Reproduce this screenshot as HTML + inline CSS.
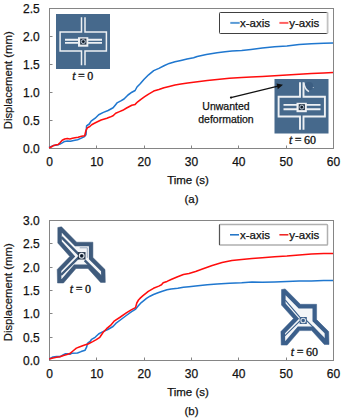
<!DOCTYPE html>
<html><head><meta charset="utf-8"><style>
html,body{margin:0;padding:0;background:#fff;}
svg{display:block;}
.tk{font-family:"Liberation Sans",sans-serif;font-size:12px;fill:#111;stroke:#111;stroke-width:0.25px;}
.ax{font-family:"Liberation Sans",sans-serif;font-size:11.3px;fill:#111;stroke:#111;stroke-width:0.2px;}
.lg{font-family:"Liberation Sans",sans-serif;font-size:11.5px;fill:#111;stroke:#111;stroke-width:0.25px;}
.an{font-family:"Liberation Sans",sans-serif;font-size:10.5px;fill:#111;stroke:#111;stroke-width:0.25px;}
.tt{font-family:"Liberation Serif",serif;font-size:12px;word-spacing:-0.5px;fill:#111;stroke:#111;stroke-width:0.3px;}
</style></head><body>
<svg width="342" height="418" viewBox="0 0 342 418">
<rect width="342" height="418" fill="#fff"/>
<rect x="49.5" y="8.5" width="284.0" height="140" fill="none" stroke="#858585" stroke-width="1"/>
<text x="39.8" y="152.9" text-anchor="end" class="tk">0.0</text>
<line x1="49.5" y1="120.5" x2="52.5" y2="120.5" stroke="#858585"/>
<text x="39.8" y="124.9" text-anchor="end" class="tk">0.5</text>
<line x1="49.5" y1="92.5" x2="52.5" y2="92.5" stroke="#858585"/>
<text x="39.8" y="96.9" text-anchor="end" class="tk">1.0</text>
<line x1="49.5" y1="64.5" x2="52.5" y2="64.5" stroke="#858585"/>
<text x="39.8" y="68.9" text-anchor="end" class="tk">1.5</text>
<line x1="49.5" y1="36.5" x2="52.5" y2="36.5" stroke="#858585"/>
<text x="39.8" y="40.9" text-anchor="end" class="tk">2.0</text>
<text x="39.8" y="12.9" text-anchor="end" class="tk">2.5</text>
<text x="49.5" y="165.5" text-anchor="middle" class="tk">0</text>
<line x1="96.5" y1="148.5" x2="96.5" y2="145.5" stroke="#858585"/>
<text x="96.83333333333334" y="165.5" text-anchor="middle" class="tk">10</text>
<line x1="144.5" y1="148.5" x2="144.5" y2="145.5" stroke="#858585"/>
<text x="144.16666666666669" y="165.5" text-anchor="middle" class="tk">20</text>
<line x1="191.5" y1="148.5" x2="191.5" y2="145.5" stroke="#858585"/>
<text x="191.5" y="165.5" text-anchor="middle" class="tk">30</text>
<line x1="238.5" y1="148.5" x2="238.5" y2="145.5" stroke="#858585"/>
<text x="238.83333333333334" y="165.5" text-anchor="middle" class="tk">40</text>
<line x1="286.5" y1="148.5" x2="286.5" y2="145.5" stroke="#858585"/>
<text x="286.16666666666663" y="165.5" text-anchor="middle" class="tk">50</text>
<text x="333.5" y="165.5" text-anchor="middle" class="tk">60</text>
<text x="188" y="183.5" text-anchor="middle" class="tk" style="font-size:11.5px">Time (s)</text>
<text x="191.5" y="202.5" text-anchor="middle" class="tk" style="font-size:11.5px">(a)</text>
<text transform="translate(12,80.3) rotate(-90)" text-anchor="middle" class="ax">Displacement (mm)</text>
<rect x="219.5" y="12.5" width="108" height="21" rx="0.8" fill="#fff" stroke="#404040"/>
<line x1="327.6" y1="12.5" x2="327.6" y2="33.2" stroke="#c2c2c2" stroke-width="1.8"/>
<line x1="230.3" y1="22.9" x2="239.7" y2="22.9" stroke="#5a9bd6" stroke-width="2"/>
<line x1="279.4" y1="22.9" x2="288.4" y2="22.9" stroke="#ff6060" stroke-width="2"/>
<text x="240" y="27" class="lg">x-axis</text>
<text x="289.2" y="27" class="lg">y-axis</text>
<polyline points="49.0,147.5 53.7,145.4 57.0,144.9 59.6,144.2 62.2,142.9 64.7,141.4 67.3,141.0 70.5,141.2 73.7,140.4 77.6,139.7 80.8,138.4 84.0,136.9 86.0,134.8 86.6,125.8 88.5,124.5 89.3,124.0 91.1,121.2 95.2,118.2 98.7,114.7 103.4,112.4 108.1,110.5 113.1,107.8 115.0,105.4 117.0,102.9 120.8,100.9 124.0,99.0 128.0,95.0 131.9,92.2 135.1,90.5 137.0,87.0 140.2,83.8 144.1,79.3 148.6,74.8 153.7,70.6 158.9,68.4 164.0,65.8 169.2,63.4 175.0,61.8 180.9,60.4 187.0,59.1 193.6,57.7 197.2,56.4 206.3,54.6 217.1,52.8 225.0,51.8 232.0,51.0 241.7,50.6 251.0,49.5 262.3,48.0 274.6,46.8 286.9,46.0 299.1,44.6 311.4,43.8 323.7,43.3 333.0,42.9" fill="none" stroke="#1f77cf" stroke-width="1.55" stroke-linejoin="round"/>
<polyline points="49.0,147.7 51.2,147.0 53.8,145.4 56.4,144.8 58.3,144.4 60.2,142.5 62.2,140.3 64.7,139.0 67.3,138.6 69.9,138.9 72.5,138.2 75.0,137.8 78.2,137.3 81.5,136.3 84.7,135.7 86.0,130.3 87.3,127.9 89.8,126.5 91.7,124.7 94.4,123.3 96.4,122.3 101.1,120.0 106.9,118.2 110.0,117.1 113.1,115.8 115.7,113.2 118.9,111.9 122.7,110.3 126.6,108.0 131.8,105.2 135.1,104.4 137.7,101.8 140.9,99.3 144.7,96.7 148.6,94.1 153.7,91.1 158.9,89.6 164.0,87.7 169.2,86.4 175.0,85.0 180.9,84.1 187.7,83.0 197.5,81.7 207.3,80.6 217.1,79.4 229.4,78.2 241.7,77.4 251.0,77.0 262.3,76.4 274.6,75.8 286.9,75.1 299.1,74.2 311.4,73.6 323.7,73.0 333.0,72.5" fill="none" stroke="#ff0d0d" stroke-width="1.55" stroke-linejoin="round"/>
<g transform="translate(56,14) scale(1.000,1.000)">
<rect x="0" y="0" width="54" height="55" fill="#46698c"/>
<path d="M25.5 3.3 V17.9 H4.1 V37.1 H25.5 V51.2 M29 3.3 V17.9 H50.4 V37.1 H29 V51.2" fill="none" stroke="#eef1f4" stroke-width="1.5"/>
<path d="M9 25.8 H46 M9 28.9 H46" fill="none" stroke="#eef1f4" stroke-width="1.9"/>
<rect x="22" y="23.200000000000003" width="10.3" height="9.5" fill="#eef1f4"/>
<rect x="24.2" y="24.6" width="6.2" height="6" fill="#233447"/>
<circle cx="27.3" cy="27.6" r="2" fill="none" stroke="#c9d3de" stroke-width="0.9"/>
<circle cx="27.3" cy="27.6" r="0.9" fill="#0e1620"/>
</g>
<text x="82.7" y="80" text-anchor="middle" class="tt"><tspan font-style="italic">t</tspan> = 0</text>
<g transform="translate(274.5,79) scale(1.000,0.991)">
<rect x="0" y="0" width="54" height="55" fill="#46698c"/>
<path d="M25.5 3.3 V17.9 H4.1 V37.8 H25.5 V51.2 M29 3.3 V17.9 H50.4 V37.8 H29 V51.2" fill="none" stroke="#eef1f4" stroke-width="1.9"/>
<path d="M9 26.1 H46 M9 30.5 H46" fill="none" stroke="#eef1f4" stroke-width="1.9"/>
<rect x="22" y="24.0" width="10.3" height="9.5" fill="#eef1f4"/>
<rect x="24.2" y="25.4" width="6.2" height="6" fill="#233447"/>
<circle cx="27.3" cy="28.4" r="2" fill="none" stroke="#c9d3de" stroke-width="0.9"/>
<circle cx="27.3" cy="28.4" r="0.9" fill="#0e1620"/>
<circle cx="34.5" cy="7.2" r="4.1" fill="#3c5e82"/>
<path d="M29.3 4 C29.8 8, 30.5 10.5, 34.5 12.8" fill="none" stroke="#e4e9ef" stroke-width="1.5"/>
<circle cx="38.8" cy="8.6" r="0.6" fill="#b9c7d6"/>
</g>
<text x="302.5" y="143.5" text-anchor="middle" class="tt"><tspan font-style="italic">t</tspan> = 60</text>
<line x1="230.8" y1="97.6" x2="278" y2="86.2" stroke="#111" stroke-width="1.2"/>
<circle cx="231" cy="97.6" r="1.1" fill="#111"/>
<path d="M283 84.8 L276.5 83.6 L277.8 89.2 Z" fill="#111"/>
<text x="226" y="109.5" text-anchor="middle" class="an">Unwanted</text>
<text x="226" y="123" text-anchor="middle" class="an">deformation</text>
<rect x="49.5" y="220.5" width="284.0" height="140" fill="none" stroke="#858585" stroke-width="1"/>
<text x="39.8" y="364.9" text-anchor="end" class="tk">0.0</text>
<line x1="49.5" y1="337.5" x2="52.5" y2="337.5" stroke="#858585"/>
<text x="39.8" y="341.56666666666666" text-anchor="end" class="tk">0.5</text>
<line x1="49.5" y1="313.5" x2="52.5" y2="313.5" stroke="#858585"/>
<text x="39.8" y="318.2333333333333" text-anchor="end" class="tk">1.0</text>
<line x1="49.5" y1="290.5" x2="52.5" y2="290.5" stroke="#858585"/>
<text x="39.8" y="294.9" text-anchor="end" class="tk">1.5</text>
<line x1="49.5" y1="267.5" x2="52.5" y2="267.5" stroke="#858585"/>
<text x="39.8" y="271.56666666666666" text-anchor="end" class="tk">2.0</text>
<line x1="49.5" y1="243.5" x2="52.5" y2="243.5" stroke="#858585"/>
<text x="39.8" y="248.23333333333332" text-anchor="end" class="tk">2.5</text>
<text x="39.8" y="224.9" text-anchor="end" class="tk">3.0</text>
<text x="49.5" y="377.5" text-anchor="middle" class="tk">0</text>
<line x1="96.5" y1="360.5" x2="96.5" y2="357.5" stroke="#858585"/>
<text x="96.83333333333334" y="377.5" text-anchor="middle" class="tk">10</text>
<line x1="144.5" y1="360.5" x2="144.5" y2="357.5" stroke="#858585"/>
<text x="144.16666666666669" y="377.5" text-anchor="middle" class="tk">20</text>
<line x1="191.5" y1="360.5" x2="191.5" y2="357.5" stroke="#858585"/>
<text x="191.5" y="377.5" text-anchor="middle" class="tk">30</text>
<line x1="238.5" y1="360.5" x2="238.5" y2="357.5" stroke="#858585"/>
<text x="238.83333333333334" y="377.5" text-anchor="middle" class="tk">40</text>
<line x1="286.5" y1="360.5" x2="286.5" y2="357.5" stroke="#858585"/>
<text x="286.16666666666663" y="377.5" text-anchor="middle" class="tk">50</text>
<text x="333.5" y="377.5" text-anchor="middle" class="tk">60</text>
<text x="188" y="395.5" text-anchor="middle" class="tk" style="font-size:11.5px">Time (s)</text>
<text x="191.5" y="414.5" text-anchor="middle" class="tk" style="font-size:11.5px">(b)</text>
<text transform="translate(12,292.3) rotate(-90)" text-anchor="middle" class="ax">Displacement (mm)</text>
<rect x="219.5" y="224.5" width="108" height="20.5" rx="0.8" fill="#fff" stroke="#b0b0b0" stroke-width="1.5"/>
<line x1="219.5" y1="224.5" x2="219.5" y2="245" stroke="#555" stroke-width="1"/>
<line x1="230" y1="234.8" x2="239" y2="234.8" stroke="#1a6fc4" stroke-width="1.5"/>
<line x1="279.4" y1="234.8" x2="288.4" y2="234.8" stroke="#ee1c1c" stroke-width="1.5"/>
<text x="240" y="239" class="lg">x-axis</text>
<text x="289.2" y="239" class="lg">y-axis</text>
<polyline points="49.2,359.0 53.0,357.0 56.5,356.6 60.0,356.6 63.5,354.8 65.6,353.8 67.8,353.8 69.9,354.3 71.7,353.3 77.5,353.0 81.1,351.6 85.1,350.2 86.7,346.9 87.5,343.4 90.4,341.1 91.6,339.3 95.1,337.3 98.6,334.0 100.0,333.1 102.5,331.9 107.8,329.5 113.0,326.5 115.8,323.4 121.0,319.5 126.3,315.5 131.6,311.6 135.3,309.4 137.9,306.3 141.3,302.6 146.5,298.4 150.0,296.2 153.5,294.5 158.0,292.8 162.3,291.2 167.0,289.8 171.1,289.0 177.8,288.2 183.4,287.3 189.0,286.8 195.6,286.1 207.3,284.8 217.1,284.1 229.4,283.3 241.7,282.8 252.0,282.1 262.3,282.3 274.6,281.9 286.9,281.4 299.1,281.1 311.4,280.9 323.7,280.6 333.0,280.4" fill="none" stroke="#1f77cf" stroke-width="1.55" stroke-linejoin="round"/>
<polyline points="49.2,359.0 53.0,358.0 56.5,357.3 60.0,356.8 63.5,355.5 67.0,354.5 69.9,353.6 72.9,351.0 76.4,348.1 79.9,346.7 84.6,345.1 88.1,344.0 92.7,341.6 96.3,339.6 99.8,337.3 103.2,332.2 106.6,328.7 110.5,325.4 114.5,320.8 119.7,317.5 126.3,312.9 131.6,309.6 135.5,307.6 136.8,303.0 138.5,300.0 140.5,297.9 143.0,295.7 148.3,291.4 153.5,288.3 158.8,286.1 161.5,284.8 163.2,282.8 167.0,281.4 171.1,279.5 177.0,277.0 183.4,274.5 189.0,273.4 195.6,271.5 202.4,269.0 212.2,265.4 222.1,262.6 231.9,260.6 241.7,259.4 252.0,258.6 262.3,257.8 274.6,256.8 286.9,256.0 299.1,254.9 311.4,254.0 323.7,253.6 333.0,253.4" fill="none" stroke="#ff0d0d" stroke-width="1.55" stroke-linejoin="round"/>
<path d="M57.80 227.50 L61.50 226.80 L76.70 242.20 L92.90 242.20 L92.90 257.50 L105.00 269.50 L105.30 282.40 L100.60 282.40 L88.00 268.50 L76.00 268.50 L63.50 283.00 L57.50 283.00 L57.20 269.50 L69.80 256.50 L57.80 243.00 Z" fill="#3f5b7c" stroke="#3f5b7c" stroke-width="0.5" stroke-linejoin="round"/>
<path d="M61.80 232.80 L61.80 241.48 L75.26 256.62 L61.24 271.08 L61.41 279.00 L61.67 279.00 L74.17 264.50 L89.77 264.50 L101.18 277.08 L101.04 271.20 L88.90 259.17 L88.90 246.20 L75.03 246.20 Z" fill="#f4f6f8"/>
<path d="M61.50 237.10 L78.70 254.30 M84.70 260.30 L101.60 277.20 M61.00 275.00 L78.70 257.30" fill="none" stroke="#3f5b7c" stroke-width="2.4" stroke-linecap="butt"/>
<path d="M79.70 247.80 H87.30 V257.80" fill="none" stroke="#9aabbf" stroke-width="1"/>
<rect x="77.90" y="252.10" width="7.6" height="7.4" fill="#22344a"/>
<circle cx="81.70" cy="255.80" r="2.4" fill="none" stroke="#e8ecf0" stroke-width="1.1"/>
<circle cx="81.70" cy="255.80" r="1.1" fill="#0c1520"/>
<text x="80.4" y="293" text-anchor="middle" class="tt"><tspan font-style="italic">t</tspan> = 0</text>
<path d="M281.50 289.60 L285.20 288.90 L300.40 304.30 L316.60 304.30 L316.60 319.60 L328.70 331.60 L329.00 344.50 L324.30 344.50 L311.70 330.60 L299.70 330.60 L287.20 345.10 L281.20 345.10 L280.90 331.60 L293.50 318.60 L281.50 305.10 Z" fill="#3b5f8b" stroke="#3b5f8b" stroke-width="0.5" stroke-linejoin="round"/>
<path d="M285.60 295.14 L285.60 303.54 L299.09 318.72 L285.04 333.22 L285.21 341.00 L285.32 341.00 L297.82 326.50 L313.52 326.50 L324.77 338.91 L324.64 333.35 L312.50 321.31 L312.50 308.40 L298.69 308.40 Z" fill="#f4f6f8"/>
<path d="M285.30 300.10 L299.80 317.20 M306.20 320.20 L325.20 339.20 M284.80 335.80 L299.80 321.10" fill="none" stroke="#3b5f8b" stroke-width="1.1" stroke-linecap="butt"/>
<rect x="299.60" y="317.00" width="7.2" height="7" fill="#3b5f8b"/>
<circle cx="303.20" cy="320.50" r="2.3" fill="none" stroke="#d9e0e8" stroke-width="1.1"/>
<text x="304.4" y="355.5" text-anchor="middle" class="tt"><tspan font-style="italic">t</tspan> = 60</text>
</svg>
</body></html>
